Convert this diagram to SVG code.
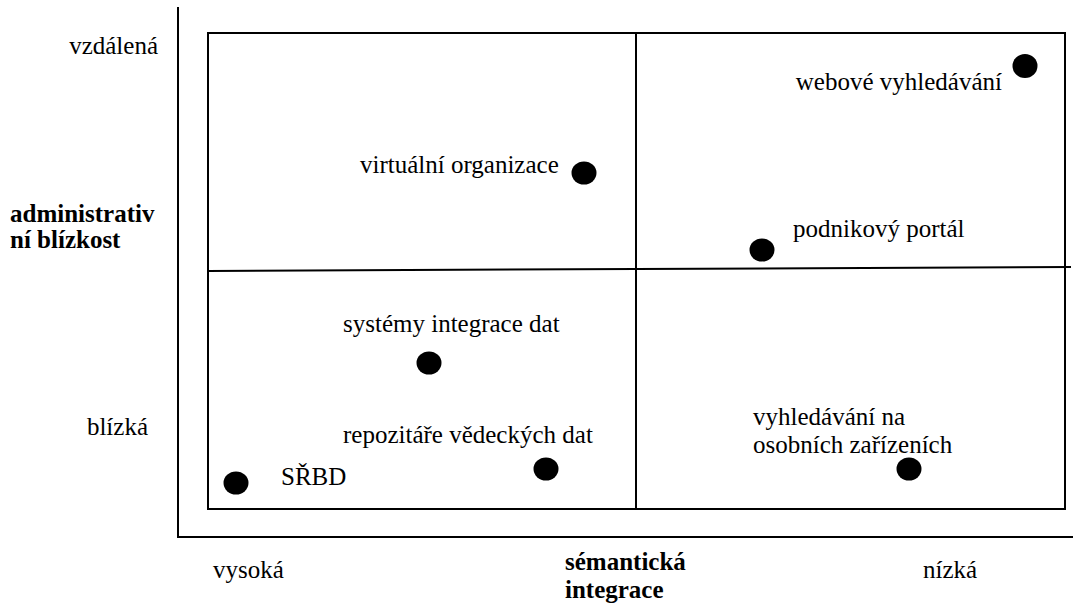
<svg xmlns="http://www.w3.org/2000/svg" width="1073" height="605" viewBox="0 0 1073 605">
<style>
text{font-family:"Liberation Serif","Times New Roman",Times,serif;font-size:25px;fill:#000}
.b{font-weight:bold}
.ln{stroke:#000;stroke-width:2;fill:none}
.dot{fill:#000}
</style>
<rect width="1073" height="605" fill="#fff"/>
<g id="axes">
<line class="ln" x1="178" y1="7" x2="178" y2="538"/>
<line class="ln" x1="177" y1="537" x2="1073" y2="537"/>
</g>
<g id="grid">
<rect class="ln" x="208" y="33" width="857" height="476"/>
<line class="ln" x1="636" y1="33" x2="636" y2="509"/>
<line class="ln" x1="208" y1="271" x2="1071" y2="267"/>
</g>
<g id="axis-labels">
<text x="158" y="54" text-anchor="end">vzdálená</text>
<text x="148" y="435" text-anchor="end">blízká</text>
<text class="b" x="10" y="222">administrativ</text>
<text class="b" x="10" y="248">ní blízkost</text>
<text x="213" y="578">vysoká</text>
<text class="b" x="565" y="570">sémantická</text>
<text class="b" x="565" y="598">integrace</text>
<text x="923" y="578">nízká</text>
</g>
<g id="n-web"><ellipse class="dot" cx="1025" cy="66" rx="12.5" ry="12"/><text x="1002" y="90" text-anchor="end">webové vyhledávání</text></g>
<g id="n-vo"><ellipse class="dot" cx="584" cy="173" rx="12.5" ry="11.5"/><text x="360" y="173">virtuální organizace</text></g>
<g id="n-portal"><ellipse class="dot" cx="762" cy="250" rx="12.5" ry="11.5"/><text x="793" y="237">podnikový portál</text></g>
<g id="n-sid"><ellipse class="dot" cx="429" cy="363" rx="12.5" ry="11.5"/><text x="343" y="332">systémy integrace dat</text></g>
<g id="n-rvd"><ellipse class="dot" cx="546" cy="469" rx="12.5" ry="11.5"/><text x="343" y="443">repozitáře vědeckých dat</text></g>
<g id="n-vos"><ellipse class="dot" cx="909" cy="469" rx="12.5" ry="11.5"/><text x="753" y="425">vyhledávání na</text><text x="753" y="453">osobních zařízeních</text></g>
<g id="n-srbd"><ellipse class="dot" cx="236" cy="483" rx="12.5" ry="11.5"/><text x="281" y="485">SŘBD</text></g>
</svg>
